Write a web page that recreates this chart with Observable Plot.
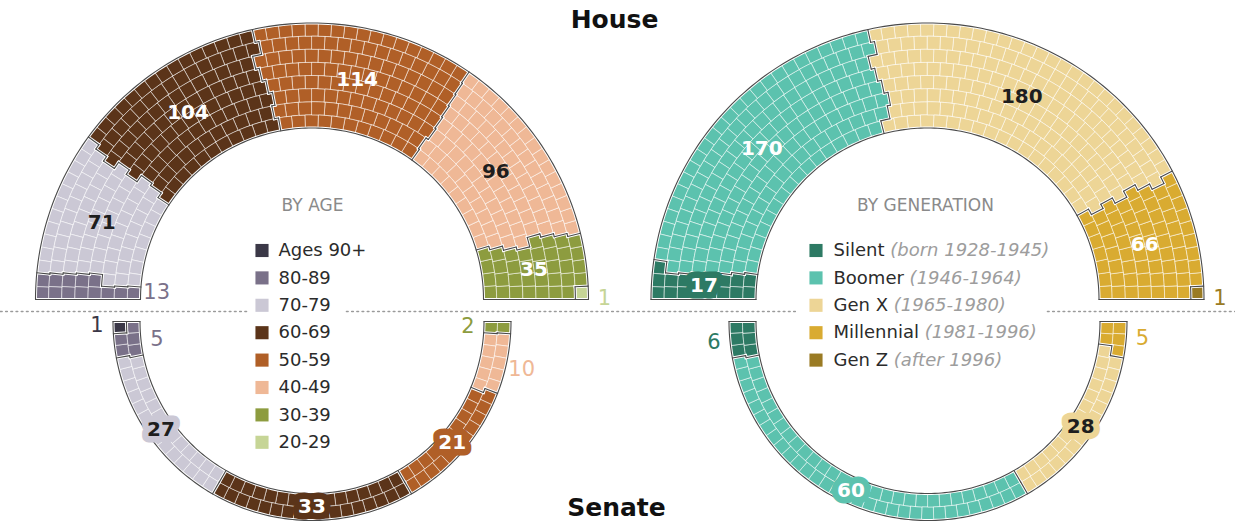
<!DOCTYPE html>
<html><head><meta charset="utf-8">
<script src="https://cdn.jsdelivr.net/npm/d3@7"></script>
<script src="https://cdn.jsdelivr.net/npm/@observablehq/plot@0.6"></script>
<style>body{margin:0;background:#fff;} #chart svg{display:block;}</style>
</head><body><div id="chart"></div>
<script>
// ---------------- DATA ----------------
const ageGroups = ["Ages 90+", "80-89", "70-79", "60-69", "50-59", "40-49", "30-39", "20-29"];
const ageColors = ["#3b3847", "#7a7189", "#cbc8d5", "#5b3419", "#b05f27", "#efb896", "#8d9c3f", "#c6d596"];
const houseAge  = [0, 13, 71, 104, 114, 96, 35, 1];
const senateAge = [1, 5, 27, 33, 21, 10, 2, 0];

const genGroups = ["Silent", "Boomer", "Gen X", "Millennial", "Gen Z"];
const genYears  = ["(born 1928-1945)", "(1946-1964)", "(1965-1980)", "(1981-1996)", "(after 1996)"];
const genColors = ["#2d7a64", "#5cc2ae", "#edd596", "#d9ab31", "#9a7b24"];
const houseGen  = [17, 170, 180, 66, 1];
const senateGen = [6, 60, 28, 5, 0];

const titles = ["House", "Senate"];
const legendTitles = ["BY AGE", "BY GENERATION"];

// ---------------- LAYOUT / STYLE ----------------
const W = 1235, H = 525;
const FONT = "DejaVu Sans";
const labelSide = {
  houseAge:  {"80-89": "in", "20-29": "out"},
  senateAge: {"Ages 90+": "out", "80-89": "in", "40-49": "out", "30-39": "in"},
  houseGen:  {"Gen Z": "out"},
  senateGen: {"Silent": "out", "Millennial": "out"}
};

const cells = [], edges = [], labels = [];

function arcChart(counts, groups, colors, cx, cy, r0, r1, nRings, s, sides, pillAll) {
  const total = d3.sum(counts);
  const dr = (r1 - r0) / nRings;
  const mids = d3.range(nRings).map(i => r0 + dr * (i + 0.5));
  const msum = d3.sum(mids);
  const raw = mids.map(m => total * m / msum);
  const n = raw.map(Math.floor);
  const rem = total - d3.sum(n);
  const ord = d3.range(nRings).sort((a, b) => (raw[b] - n[b]) - (raw[a] - n[a]));
  for (let k = 0; k < rem; k++) n[ord[k]]++;
  const pt = (r, t) => [cx - r * Math.cos(Math.PI * t), cy - s * r * Math.sin(Math.PI * t)];
  const arcPts = (r, a, b) => {
    const m = Math.max(2, Math.ceil(Math.abs(b - a) * 160));
    return d3.range(m + 1).map(k => pt(r, a + (b - a) * k / m));
  };
  const list = [];
  const grid = d3.range(nRings).map(() => []);
  for (let i = 0; i < nRings; i++)
    for (let j = 0; j < n[i]; j++) {
      const c = {i, j, t0: j / n[i], t1: (j + 1) / n[i], tc: (j + 0.5) / n[i]};
      list.push(c); grid[i][j] = c;
    }
  list.sort((a, b) => a.tc - b.tc || b.i - a.i);
  const cum = d3.cumsum(counts);
  list.forEach((c, k) => { c.g = d3.bisectRight(cum, k); });
  const rin = i => r0 + dr * i, rout = i => r0 + dr * (i + 1);
  for (const c of list) {
    const ring = [...arcPts(rout(c.i), c.t0, c.t1), ...arcPts(rin(c.i), c.t1, c.t0)];
    ring.push(ring[0]);
    cells.push({type: "Feature", properties: {fill: colors[c.g]}, geometry: {type: "Polygon", coordinates: [ring]}});
  }
  const line = coords => edges.push({type: "Feature", properties: {}, geometry: {type: "LineString", coordinates: coords}});
  // radial edges
  for (let i = 0; i < nRings; i++)
    for (let j = 0; j <= n[i]; j++) {
      if (j === 0 || j === n[i] || grid[i][j - 1].g !== grid[i][j].g) {
        const t = j / n[i];
        line([pt(rin(i), t), pt(rout(i), t)]);
      }
    }
  // ring boundary arcs
  const gAt = (i, t) => (i < 0 || i >= nRings) ? -1 : grid[i][Math.min(n[i] - 1, Math.floor(t * n[i]))].g;
  for (let i = -1; i < nRings; i++) {
    const R = r0 + dr * (i + 1);
    const bps = new Set([0, 1]);
    if (i >= 0) for (let j = 0; j <= n[i]; j++) bps.add(j / n[i]);
    if (i + 1 < nRings) for (let j = 0; j <= n[i + 1]; j++) bps.add(j / n[i + 1]);
    const b = [...bps].sort((x, y) => x - y);
    let run = null;
    for (let k = 0; k < b.length - 1; k++) {
      const a0 = b[k], a1 = b[k + 1];
      if (a1 - a0 < 1e-9) continue;
      const m = (a0 + a1) / 2;
      if (gAt(i, m) !== gAt(i + 1, m)) {
        if (run && Math.abs(run[1] - a0) < 1e-9) run[1] = a1; else { if (run) line(arcPts(R, run[0], run[1])); run = [a0, a1]; }
      } else if (run) { line(arcPts(R, run[0], run[1])); run = null; }
    }
    if (run) line(arcPts(R, run[0], run[1]));
  }
  // labels
  let start = 0;
  counts.forEach((v, g) => {
    if (v > 0) {
      const tm = (start + v / 2) / total;
      const mode = sides[groups[g]] || "on";
      const r = mode === "on" ? (r0 + r1) / 2 : mode === "out" ? r1 + 16 : r0 - 16;
      const [x, y] = pt(r, tm);
      const light = d3.hsl(colors[g]).l > 0.6;
      labels.push({
        x, y, text: String(v), on: mode === "on",
        fill: mode === "on" ? (light ? "#1e1e1e" : "#ffffff") : colors[g],
        pill: mode === "on" && (pillAll || v < 25), bg: colors[g]
      });
    }
    start += v;
  });
}

arcChart(houseAge, ageGroups, ageColors, 311.5, 299, 171.5, 276.5, 8, 1, labelSide.houseAge, false);
arcChart(houseGen, genGroups, genColors, 927, 299, 171.5, 276.5, 8, 1, labelSide.houseGen, false);
arcChart(senateAge, ageGroups, ageColors, 311.5, 321, 172, 199, 2, -1, labelSide.senateAge, true);
arcChart(senateGen, genGroups, genColors, 927.5, 321, 172, 199, 2, -1, labelSide.senateGen, true);

// dotted divider (broken where legends sit)
const divY = 311;
const divider = [[0, 248], [346, 795], [1047, W]].map(([a, b]) => ({type: "Feature", properties: {},
  geometry: {type: "LineString", coordinates: [[a, divY], [b, divY]]}}));

// legends
const LEG_FS = 18;
const ctx = document.createElement("canvas").getContext("2d");
ctx.font = `${LEG_FS}px "${FONT}"`;
const ageLegend = ageGroups.map((g, k) => ({sx: 261.5, tx: 278, y: 250 + k * 27.4, name: g, color: ageColors[k]}));
const genLegend = genGroups.map((g, k) => {
  const tx = 833;
  return {sx: 815.5, tx, y: 250 + k * 27.4, name: g, years: genYears[k], color: genColors[k],
    yx: tx + ctx.measureText(g + " ").width};
});
const legendAll = [...ageLegend, ...genLegend];
const legendHeads = [{x: 312, y: 205, text: legendTitles[0]}, {x: 925, y: 205, text: legendTitles[1]}];
const titleData = [{x: 614, y: 19, text: titles[0]}, {x: 616, y: 507, text: titles[1]}];

const onLabels = labels.filter(d => d.on), outLabels = labels.filter(d => !d.on);

const chart = Plot.plot({
  width: W, height: H, margin: 0,
  projection: {type: "identity"},
  color: {type: "identity"},
  style: {fontFamily: FONT, background: "#fff"},
  marks: [
    Plot.geo(divider, {stroke: "#9a9a9a", strokeWidth: 1.6, strokeDasharray: "1.6,3.6"}),
    Plot.geo(cells, {fill: d => d.properties.fill, stroke: "#ffffff", strokeOpacity: 0.5, strokeWidth: 1}),
    Plot.geo(edges, {stroke: "#ffffff", strokeWidth: 3, strokeLinecap: "square"}),
    Plot.geo(edges, {stroke: "#4a4a4a", strokeWidth: 1.1}),
    Plot.text(onLabels.filter(d => d.pill), {x: "x", y: "y", text: "text", fill: "fill", stroke: "bg", strokeWidth: 13,
      strokeLinejoin: "round", paintOrder: "stroke", fontSize: 20, fontWeight: "bold"}),
    Plot.text(onLabels.filter(d => !d.pill), {x: "x", y: "y", text: "text", fill: "fill", fontSize: 20, fontWeight: "bold"}),
    Plot.text(outLabels, {x: "x", y: "y", text: "text", fill: "fill", fontSize: 21}),
    Plot.dot(legendAll, {x: "sx", y: "y", r: 7.4, symbol: "square", fill: "color", stroke: null}),
    Plot.text(legendAll, {x: "tx", y: "y", text: "name", textAnchor: "start", fill: "#2b2b2b", fontSize: LEG_FS}),
    Plot.text(genLegend, {x: "yx", y: "y", text: "years", textAnchor: "start", fill: "#9d9d9d", fontSize: LEG_FS, fontStyle: "italic"}),
    Plot.text(legendHeads, {x: "x", y: "y", text: "text", fill: "#8a8a8a", fontSize: 17, letterSpacing: 0.4}),
    Plot.text(titleData, {x: "x", y: "y", text: "text", fill: "#111", fontSize: 25, fontWeight: "bold"})
  ]
});
document.getElementById("chart").appendChild(chart);
</script>
</body></html>
